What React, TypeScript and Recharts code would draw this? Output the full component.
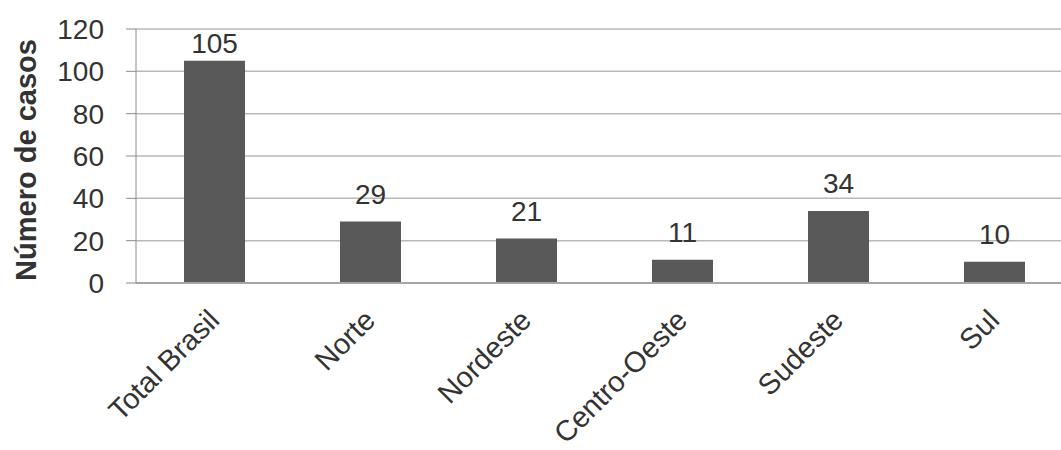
import { Bar, BarChart, CartesianGrid, LabelList, XAxis, YAxis } from "recharts";

const regions = ["Total Brasil", "Norte", "Nordeste", "Centro-Oeste", "Sudeste", "Sul"];
const cases = [105, 29, 21, 11, 34, 10];
const yTicks = [0, 20, 40, 60, 80, 100, 120];

const data = regions.map((name, i) => ({ name, casos: cases[i] }));

const FONT = "'Liberation Sans', Arial, sans-serif";
const TEXT = "#333333";

function RegionTick({ x, y, payload }: any) {
  const px = x + 7;
  const py = y + 31;
  return (
    <text
      x={px}
      y={py}
      transform={`rotate(-45, ${px}, ${py})`}
      textAnchor="end"
      fontFamily={FONT}
      fontSize={29}
      fill={TEXT}
    >
      {payload.value}
    </text>
  );
}

// value label sits ~18px above the bar, but never above the plot top
function ValueLabel({ x, y, width, value }: any) {
  const baseline = Math.max(y - 18, 53);
  return (
    <text
      x={x + width / 2}
      y={baseline}
      textAnchor="middle"
      fontFamily={FONT}
      fontSize={28}
      fill={TEXT}
    >
      {value}
    </text>
  );
}

function YTitle() {
  return (
    <text
      x={36}
      y={160}
      transform="rotate(-90, 36, 160)"
      textAnchor="middle"
      fontFamily={FONT}
      fontSize={29}
      fontWeight="bold"
      fill={TEXT}
    >
      Número de casos
    </text>
  );
}

export default function App() {
  return (
    <div
      style={{
        position: "absolute",
        left: 0,
        top: 0,
        width: 1061,
        height: 450,
        overflow: "hidden",
        background: "#fff",
      }}
    >
      <BarChart
        width={1072}
        height={450}
        data={data}
        margin={{ top: 29, right: 0, bottom: 0, left: 0 }}
        barSize={61}
      >
        <CartesianGrid vertical={false} stroke="#b8b8b8" strokeWidth={1.5} />
        <XAxis
          dataKey="name"
          height={167}
          interval={0}
          tick={<RegionTick />}
          tickLine={false}
          axisLine={{ stroke: "#a6a6a6", strokeWidth: 2 }}
        />
        <YAxis
          width={136}
          domain={[0, 120]}
          ticks={yTicks}
          tickSize={10}
          tickMargin={22}
          tickLine={{ stroke: "#8c8c8c" }}
          axisLine={{ stroke: "#8c8c8c" }}
          tick={{ fontFamily: FONT, fontSize: 28, fill: TEXT }}
          label={{ content: () => <YTitle /> }}
        />
        <Bar dataKey="casos" fill="#595959" isAnimationActive={false}>
          <LabelList dataKey="casos" content={<ValueLabel />} />
        </Bar>
      </BarChart>
    </div>
  );
}
